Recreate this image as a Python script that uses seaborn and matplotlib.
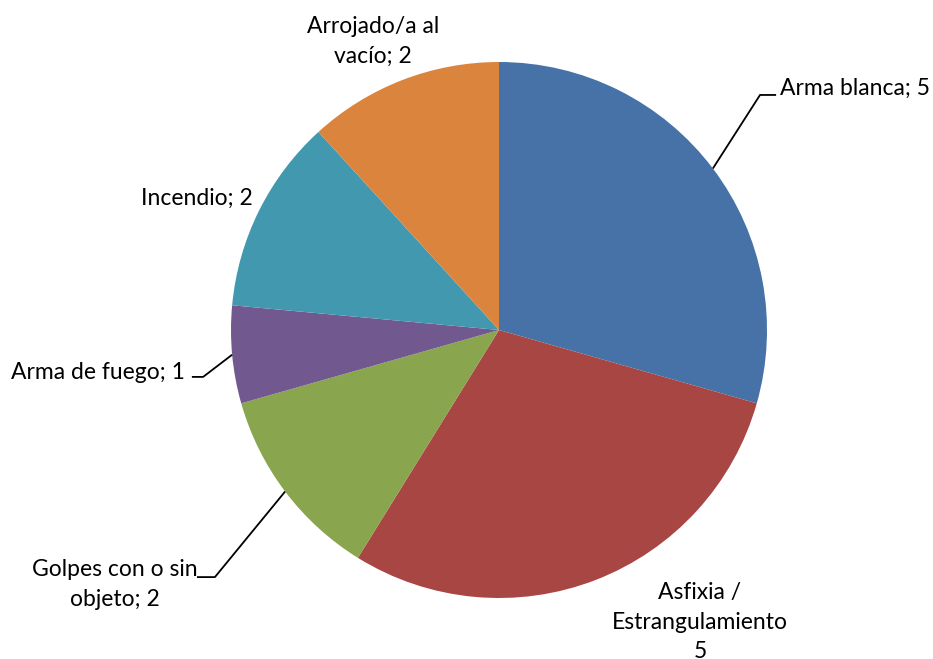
"""
Pie chart: métodos (reconstrucción)
"""
import numpy as np
import matplotlib
matplotlib.use('Agg')
import matplotlib.pyplot as plt
import seaborn as sns

categorias = ['Arma blanca', 'Asfixia / Estrangulamiento', 'Golpes con o sin objeto',
              'Arma de fuego', 'Incendio', 'Arrojado/a al vacío']
valores = [5, 5, 2, 1, 2, 2]
colores = ['#4672A8', '#A84644', '#89A54E', '#71588F', '#4298AF', '#DB843D']
etiquetas = ['Arma blanca; 5', 'Asfixia /\nEstrangulamiento\n5', 'Golpes con o sin\nobjeto; 2',
             'Arma de fuego; 1', 'Incendio; 2', 'Arrojado/a al\nvacío; 2']

sns.set_theme(style='white')
plt.rcParams['font.family'] = ['Lato', 'DejaVu Sans']

fig = plt.figure(figsize=(9.33, 6.59), dpi=100)
ax = fig.add_axes([231 / 933, 61 / 659, 536 / 933, 536 / 659])

wedges, _ = ax.pie(valores, colors=colores, startangle=90, counterclock=False,
                   radius=1, wedgeprops={'linewidth': 0})
ax.set_xlim(-1, 1)
ax.set_ylim(-1, 1)
ax.set_aspect('auto')
ax.axis('off')

# posición de texto (x, y, ha) y quiebre de línea guía (None = sin línea)
pos_texto = [(1.05, 0.90, 'left'), (0.75, -1.09, 'center'), (-1.433, -0.95, 'center'),
             (-1.172, -0.16, 'right'), (-1.127, 0.493, 'center'), (-0.47, 1.078, 'center')]
codos = [((0.974, 0.877), (1.034, 0.877)), None, ((-1.06, -0.922), (-1.127, -0.922)),
         ((-1.104, -0.175), (-1.146, -0.175)), None, None]

fs = 16.5
for w, lab, (tx, ty, ha), codo in zip(wedges, etiquetas, pos_texto, codos):
    ax.text(tx, ty, lab, ha=ha, va='center', fontsize=fs, color='black',
            multialignment='center', linespacing=1.5, clip_on=False)
    if codo is not None:
        ang = np.deg2rad((w.theta1 + w.theta2) / 2)
        x0, y0 = np.cos(ang), np.sin(ang)
        xs = [x0, codo[0][0], codo[1][0]]
        ys = [y0, codo[0][1], codo[1][1]]
        ax.plot(xs, ys, color='black', linewidth=1.3, clip_on=False,
                solid_capstyle='butt')

plt.savefig('out.png', dpi=100)
plt.close()
